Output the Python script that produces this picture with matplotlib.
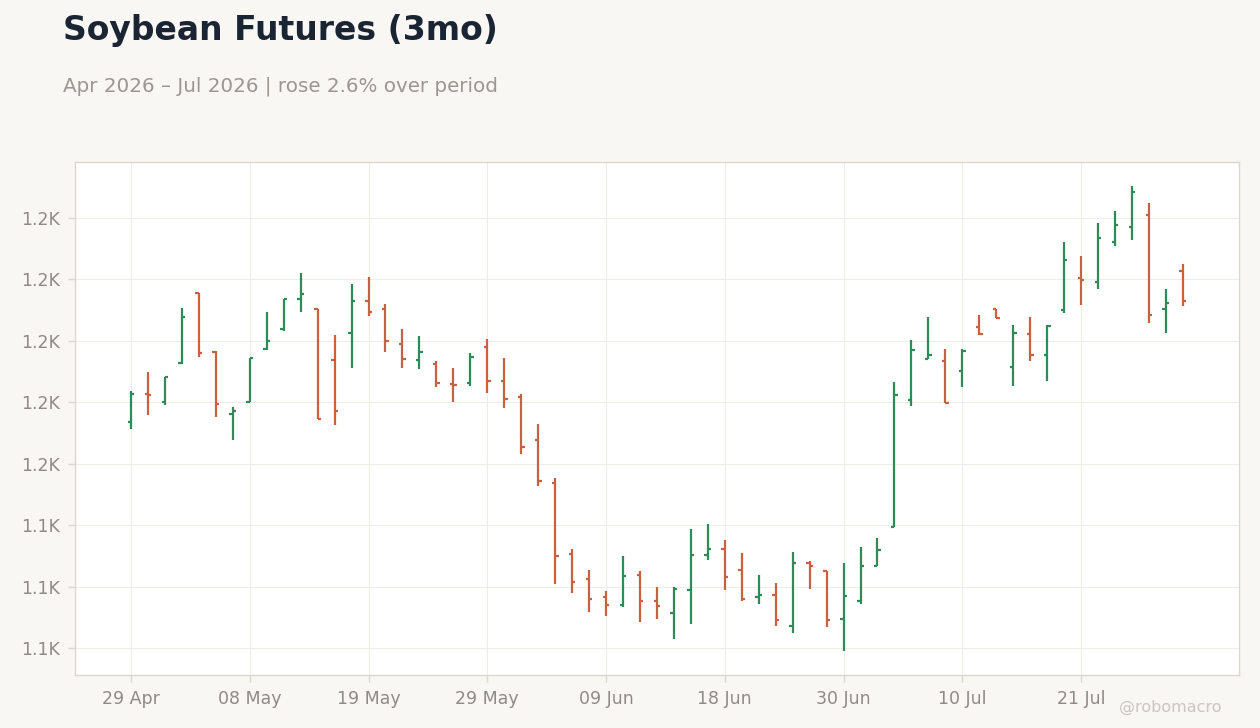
import matplotlib
matplotlib.use("Agg")
import matplotlib.pyplot as plt
import numpy as np
from matplotlib.ticker import FuncFormatter, FixedLocator

# ---- data ----
opens = [1173.5, 1182.6, 1180.0, 1192.9, 1215.4, 1196.5, 1176.1, 1180.2, 1197.2, 1203.9,
         1213.7, 1210.5, 1193.9, 1202.4, 1213.1, 1210.2, 1199.1, 1193.9, 1192.3, 1185.8,
         1186.1, 1198.1, 1186.8, 1181.7, 1167.7, 1153.7, 1130.5, 1122.4, 1116.5, 1113.9,
         1123.7, 1115.2, 1111.3, 1119.0, 1130.2, 1132.2, 1125.3, 1116.5, 1117.2, 1107.1,
         1127.6, 1125.0, 1109.3, 1115.2, 1126.6, 1139.3, 1180.7, 1194.2, 1193.4, 1190.1,
         1204.5, 1210.3, 1191.4, 1202.2, 1195.3, 1210.1, 1220.3, 1219.2, 1232.1, 1237.0,
         1240.9, 1210.5, 1222.6]
highs = [1183.6, 1189.9, 1188.2, 1210.7, 1215.5, 1196.7, 1178.5, 1194.4, 1209.4, 1213.7,
         1222.1, 1210.5, 1201.8, 1218.5, 1220.8, 1212.0, 1203.9, 1201.6, 1193.5, 1191.2,
         1196.1, 1200.6, 1194.5, 1182.8, 1172.8, 1155.4, 1132.3, 1125.5, 1118.7, 1129.8,
         1125.2, 1120.0, 1119.9, 1138.6, 1140.5, 1135.0, 1130.8, 1123.9, 1121.0, 1131.4,
         1128.2, 1125.0, 1127.5, 1133.0, 1135.7, 1186.7, 1200.4, 1207.9, 1197.2, 1197.4,
         1208.3, 1210.3, 1205.0, 1207.9, 1205.3, 1232.0, 1227.7, 1238.2, 1242.1, 1250.5,
         1245.0, 1217.0, 1225.0]
lows = [1171.2, 1175.7, 1179.0, 1192.6, 1194.7, 1175.1, 1167.6, 1180.1, 1197.1, 1203.1,
        1209.5, 1174.5, 1172.5, 1191.3, 1208.2, 1196.2, 1191.3, 1190.7, 1184.8, 1180.0,
        1185.2, 1182.9, 1178.0, 1163.1, 1152.7, 1120.8, 1117.8, 1111.6, 1110.3, 1113.3,
        1108.4, 1109.3, 1102.8, 1107.7, 1128.6, 1118.8, 1115.2, 1114.2, 1107.1, 1104.8,
        1119.1, 1106.7, 1098.9, 1114.2, 1126.6, 1139.3, 1178.7, 1194.2, 1179.8, 1184.9,
        1202.0, 1207.3, 1185.2, 1193.4, 1186.8, 1209.2, 1211.5, 1216.7, 1230.8, 1232.7,
        1205.7, 1202.4, 1211.2]
closes = [1182.6, 1182.2, 1188.2, 1207.6, 1195.9, 1179.3, 1177.0, 1194.3, 1199.8, 1213.7,
          1215.3, 1174.7, 1177.0, 1213.1, 1209.4, 1199.8, 1194.2, 1196.5, 1186.1, 1185.5,
          1194.6, 1186.8, 1180.9, 1165.3, 1154.3, 1129.9, 1121.6, 1115.9, 1113.9, 1123.4,
          1115.2, 1113.5, 1119.3, 1130.2, 1132.2, 1123.0, 1115.9, 1117.2, 1109.0, 1127.6,
          1126.6, 1109.0, 1116.8, 1126.6, 1131.8, 1182.5, 1197.0, 1195.3, 1179.9, 1196.6,
          1202.2, 1207.3, 1202.5, 1195.3, 1204.8, 1226.2, 1219.7, 1233.3, 1237.6, 1248.4,
          1208.5, 1212.2, 1212.8]
tick_labels = ["29 Apr", "08 May", "19 May", "29 May", "09 Jun", "18 Jun", "30 Jun", "10 Jul", "21 Jul"]
tick_every = 7
y_ticks = [1100, 1120, 1140, 1160, 1180, 1200, 1220, 1240]

title = "Soybean Futures (3mo)"
subtitle = "Apr 2026 \u2013 Jul 2026 | rose 2.6% over period"
watermark = "@robomacro"

# ---- style ----
UP = "#2e8b57"
DOWN = "#c9603f"
BG = "#f8f7f4"
GRID = "#efedea"
SPINE = "#dcd7cf"
TXT = "#8f8a85"

plt.rcParams['font.family'] = ['DejaVu Sans']

fig = plt.figure(figsize=(12.6, 7.28), dpi=100, facecolor=BG)
ax = fig.add_axes([75 / 1260, 1 - 675 / 728, 1164 / 1260, 513 / 728])
ax.set_facecolor("white")

o = np.array(opens); h = np.array(highs); l = np.array(lows); c = np.array(closes)
x = np.arange(len(o))
colors = [UP if cc >= oo else DOWN for oo, cc in zip(o, c)]
tw = 0.2
ax.vlines(x, l, h, colors=colors, linewidth=1.6, zorder=3)
ax.hlines(o, x - tw, x, colors=colors, linewidth=1.6, zorder=3)
ax.hlines(c, x, x + tw, colors=colors, linewidth=1.6, zorder=3)

ax.set_xlim(-3.30, 65.31)
ax.set_ylim(1091.2, 1258.2)

ax.xaxis.set_major_locator(FixedLocator(list(range(0, len(tick_labels) * tick_every, tick_every))))
ax.set_xticklabels(tick_labels)
ax.yaxis.set_major_locator(FixedLocator(y_ticks))
ax.yaxis.set_major_formatter(FuncFormatter(lambda v, p: f"{v / 1000:.1f}K"))

ax.grid(True, color=GRID, linewidth=0.8, zorder=0)
ax.set_axisbelow(True)
for s in ax.spines.values():
    s.set_color(SPINE)
    s.set_linewidth(1.0)
ax.tick_params(axis="both", colors=SPINE, labelcolor=TXT, labelsize=12.5, length=5, width=1.0, pad=5.5)

fig.text(63 / 1260, 1 - 40 / 728, title, fontsize=23.8, fontweight="bold", color="#1b2433",
         ha="left", va="baseline")
fig.text(63 / 1260, 1 - 92 / 728, subtitle, fontsize=14.3, color="#9a9690",
         ha="left", va="baseline")
fig.text(1222 / 1260, 1 - 712 / 728, watermark, fontsize=11.5, color="#cac6c1",
         ha="right", va="baseline")

fig.savefig("out.png", dpi=100, facecolor=BG)
